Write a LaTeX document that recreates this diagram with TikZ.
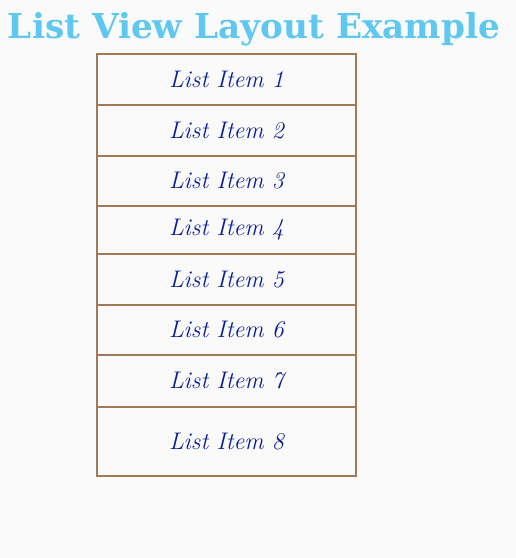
\documentclass[tikz,border=0pt]{standalone}
\usepackage{fontspec}
\usepackage{graphicx}
\newfontfamily\titlefont{DejaVu Serif}
\definecolor{paper}{RGB}{250,250,250}
\definecolor{pencil}{RGB}{160,122,88}
\definecolor{ink}{RGB}{8,30,150}
\definecolor{sky}{RGB}{95,200,240}

\begin{document}
\begin{tikzpicture}[x=1pt,y=-1pt, row/.style={rectangle, draw=pencil, line width=1.4pt, minimum width=259pt, inner sep=0pt, font=\fontsize{24}{28}\selectfont\itshape, text=ink}]
	\fill[paper] (0,0) rectangle (516,558);
	\useasboundingbox (0,0) rectangle (516,558);

	\node[text=sky, inner sep=0pt] (title) at (254,29) {\resizebox{492pt}{!}{\titlefont\bfseries List View Layout Example}};

	\node[row, minimum height=51pt] (item1) at (226.5,79.5)  {List Item 1};
	\node[row, minimum height=51pt] (item2) at (226.5,130.5) {List Item 2};
	\node[row, minimum height=50pt] (item3) at (226.5,181)   {List Item 3};
	\node[row, minimum height=48pt] (item4) at (226.5,230)   {List Item 4};
	\node[row, minimum height=51pt] (item5) at (226.5,279.5) {List Item 5};
	\node[row, minimum height=50pt] (item6) at (226.5,330)   {List Item 6};
	\node[row, minimum height=52pt] (item7) at (226.5,381)   {List Item 7};
	\node[row, minimum height=69pt] (item8) at (226.5,441.5) {List Item 8};

\end{tikzpicture}
\end{document}
